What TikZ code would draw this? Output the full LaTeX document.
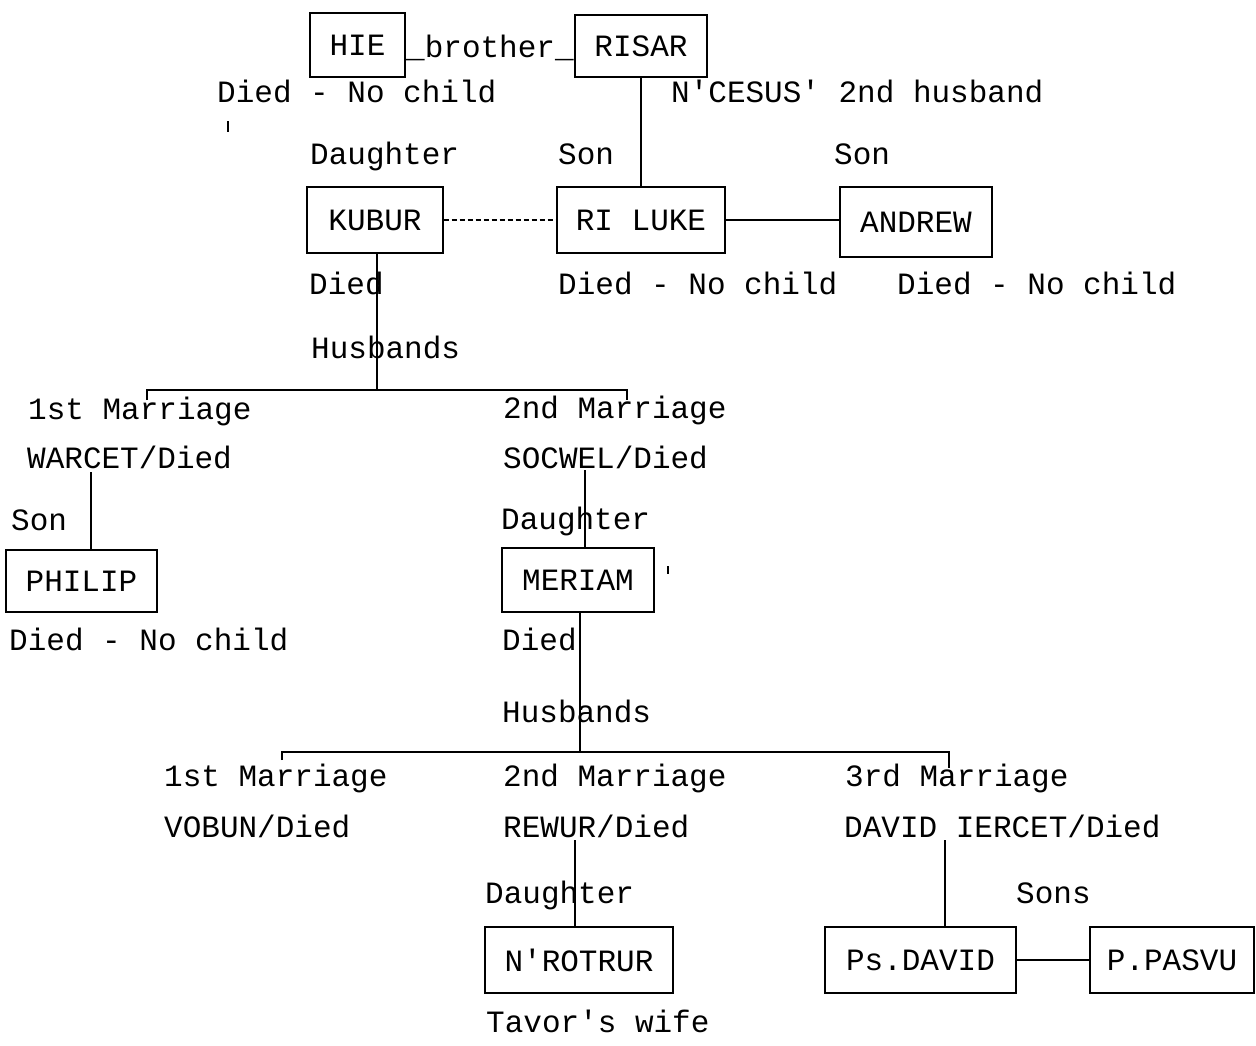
\documentclass[tikz,border=0pt]{standalone}
\usepackage{fontspec}
\newfontfamily\twfont{Liberation Mono}
\begin{document}
\begin{tikzpicture}[x=1pt,y=-1pt,
  every node/.style={font=\twfont\fontsize{31}{36}\selectfont, inner sep=0pt},
  lbl/.style={anchor=base west},
  pbox/.style={draw, line width=1.4pt, inner sep=0pt},
  link/.style={line width=1.7pt},
  bracketline/.style={line width=1.2pt}]
\useasboundingbox (0,0) rectangle (1256,1045);

% boxes
\node[pbox, minimum width=95pt, minimum height=64pt] (hie) at (357.5,45) {HIE};
\node[pbox, minimum width=132pt, minimum height=62pt] (risar) at (641,46) {RISAR};
\node[pbox, minimum width=136pt, minimum height=66pt] (kubur) at (375,220) {KUBUR};
\node[pbox, minimum width=168pt, minimum height=66pt] (riluke) at (641,220) {RI LUKE};
\node[pbox, minimum width=152pt, minimum height=70pt] (andrew) at (916,222) {ANDREW};
\node[pbox, minimum width=151pt, minimum height=62pt] (philip) at (81.5,581) {PHILIP};
\node[pbox, minimum width=152pt, minimum height=64pt] (meriam) at (578,580) {MERIAM};
\node[pbox, minimum width=188pt, minimum height=66pt] (nrotrur) at (579,960) {N'ROTRUR};
\node[pbox, minimum width=191pt, minimum height=66pt] (psdavid) at (920.5,960) {Ps.DAVID};
\node[pbox, minimum width=164pt, minimum height=66pt] (ppasvu) at (1172,960) {P.PASVU};

% labels
\node[lbl] (brother) at (406,57) {\_brother\_};
\node[lbl] (hiedied) at (217,102) {Died - No child};
\node[lbl] (ncesus) at (671,102) {N'CESUS' 2nd husband};
\node[lbl] (dau1) at (310,164) {Daughter};
\node[lbl] (son1) at (558,164) {Son};
\node[lbl] (son2) at (834,164) {Son};
\node[lbl] (kdied) at (309,294) {Died};
\node[lbl] (rdied) at (558,294) {Died - No child};
\node[lbl] (adied) at (897,294) {Died - No child};
\node[lbl] (husb1) at (311,358) {Husbands};
\node[lbl] (m11) at (28,419) {1st Marriage};
\node[lbl] (m12) at (503,418) {2nd Marriage};
\node[lbl] (warcet) at (27,468) {WARCET/Died};
\node[lbl] (socwel) at (503,468) {SOCWEL/Died};
\node[lbl] (son3) at (11,530) {Son};
\node[lbl] (dau2) at (501,529) {Daughter};
\node[lbl] (pdied) at (9,650) {Died - No child};
\node[lbl] (mdied) at (502,650) {Died};
\node[lbl] (husb2) at (502,722) {Husbands};
\node[lbl] (m21) at (164,786) {1st Marriage};
\node[lbl] (m22) at (503,786) {2nd Marriage};
\node[lbl] (m23) at (845,786) {3rd Marriage};
\node[lbl] (vobun) at (164,837) {VOBUN/Died};
\node[lbl] (rewur) at (503,837) {REWUR/Died};
\node[lbl] (david) at (844,837) {DAVID IERCET/Died};
\node[lbl] (dau3) at (485,903) {Daughter};
\node[lbl] (sons) at (1016,903) {Sons};
\node[lbl] (tavor) at (486,1032) {Tavor's wife};

% connectors
\draw[link] (risar) -- (riluke);
\draw[line width=1.1pt, dash pattern=on 5pt off 3pt] (kubur.east) -- (kubur.east -| riluke.west);
\draw[link] (riluke.east) -- (riluke.east -| andrew.west);

\coordinate (br1) at (377,390);
\coordinate (br1l) at (147,400);
\coordinate (br1r) at (627,400);
\draw[link] (kubur.south -| br1) -- (br1);
\draw[bracketline] (br1l) -- (br1l |- br1) -- (br1r |- br1) -- (br1r);

\coordinate (w1) at (91,472);
\draw[link] (w1) -- (w1 |- philip.north);
\coordinate (s1) at (585,470);
\draw[link] (s1) -- (s1 |- meriam.north);

\coordinate (br2) at (580,752);
\coordinate (br2l) at (282,760);
\coordinate (br2r) at (949,768);
\draw[link] (meriam.south -| br2) -- (br2);
\draw[bracketline] (br2l) -- (br2l |- br2) -- (br2r |- br2) -- (br2r);

\coordinate (r1) at (575,840);
\draw[link] (r1) -- (r1 |- nrotrur.north);
\coordinate (d1) at (945,840);
\draw[link] (d1) -- (d1 |- psdavid.north);
\draw[link] (psdavid.east) -- (psdavid.east -| ppasvu.west);

% stray typewriter marks
\draw[line width=1.5pt] (228,121) -- (228,132);
\draw[line width=1.2pt] (668,566) -- (668,574);
\end{tikzpicture}
\end{document}
